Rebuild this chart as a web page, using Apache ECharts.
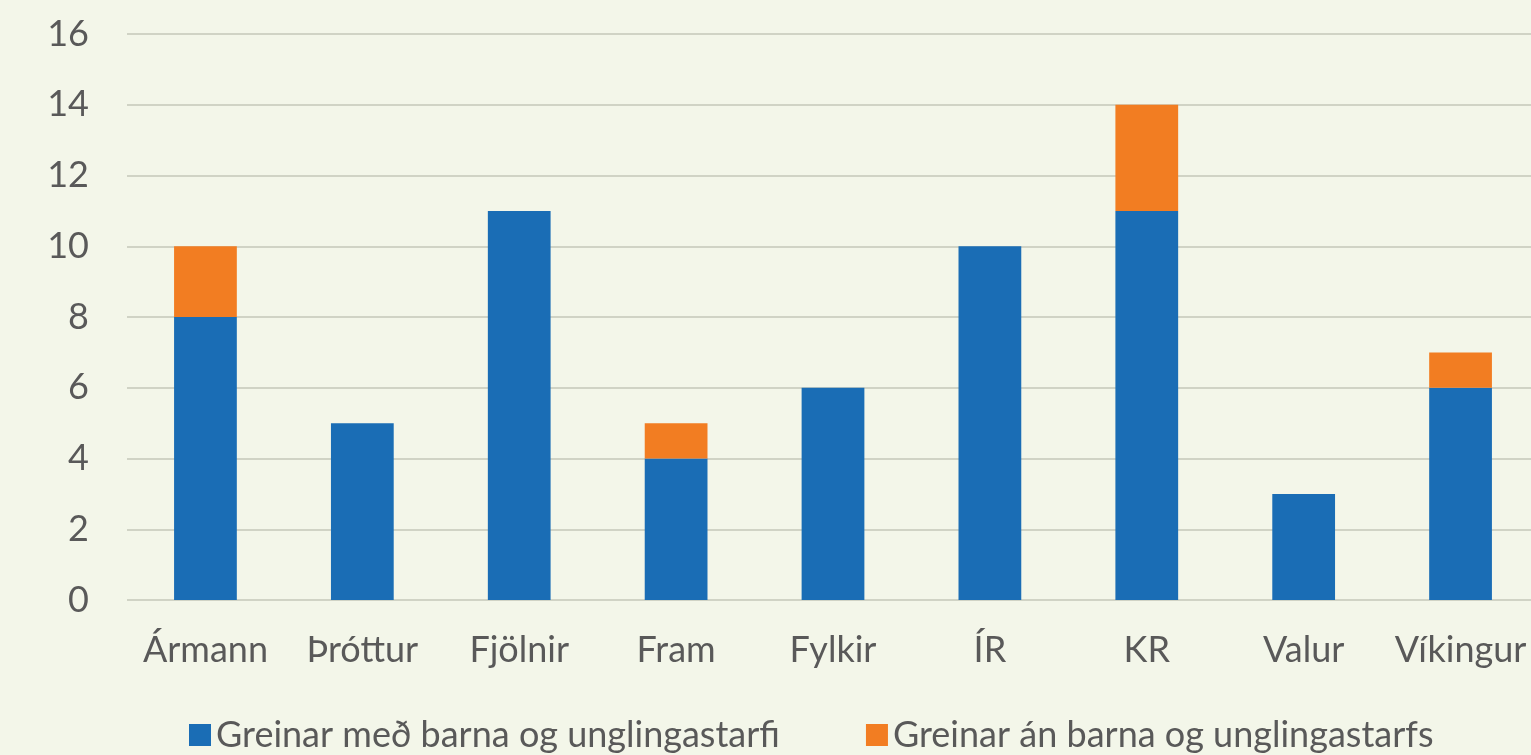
<!DOCTYPE html>
<html>
<head>
<meta charset="utf-8">
<script src="https://cdn.jsdelivr.net/npm/echarts@6/dist/echarts.min.js"></script>
<style>
    html, body { margin: 0; padding: 0; background: #f3f6e9; }
    #chart { width: 1531px; height: 755px; }
</style>
</head>
<body>
<div id="chart"></div>
<script>
const categories = ["Ármann", "Þróttur", "Fjölnir", "Fram", "Fylkir", "ÍR", "KR", "Valur", "Víkingur"];
const withYouth = [8, 5, 11, 4, 6, 10, 11, 3, 6];
const withoutYouth = [2, 0, 0, 1, 0, 0, 3, 0, 1];
const seriesNames = ["Greinar með barna og unglingastarfi", "Greinar án barna og unglingastarfs"];

const textColor = "#595959";
const font = "Lato, Calibri, sans-serif";

const myChart = echarts.init(document.getElementById("chart"));
const option = {
    backgroundColor: "#f3f6e9",
    animation: false,
    grid: {
        left: 127,
        right: -8,
        top: 34,
        bottom: 155,
        outerBoundsMode: "none",
    },
    legend: {
        bottom: -3,
        left: 184,
        itemWidth: 22,
        itemHeight: 22,
        itemGap: 86,
        icon: "rect",
        textStyle: { color: textColor, fontSize: 36, fontFamily: font },
        data: seriesNames,
    },
    xAxis: {
        type: "category",
        data: categories,
        axisLine: { show: false },
        axisTick: { show: false },
        axisLabel: { color: textColor, fontSize: 36, fontFamily: font, margin: 32, interval: 0 },
    },
    yAxis: {
        type: "value",
        min: 0,
        max: 16,
        interval: 2,
        axisLine: { show: false },
        axisTick: { show: false },
        axisLabel: { color: textColor, fontSize: 36, fontFamily: font, margin: 38 },
        splitLine: { lineStyle: { color: "#d0d3c5", width: 2 } },
    },
    series: [
        {
            name: seriesNames[0],
            type: "bar",
            stack: "total",
            barWidth: "40%",
            itemStyle: { color: "#1a6db5" },
            data: withYouth,
        },
        {
            name: seriesNames[1],
            type: "bar",
            stack: "total",
            barWidth: "40%",
            itemStyle: { color: "#f27d22" },
            data: withoutYouth.map(v => (v === 0 ? null : v)),
        },
    ],
};
myChart.setOption(option);
</script>
</body>
</html>
